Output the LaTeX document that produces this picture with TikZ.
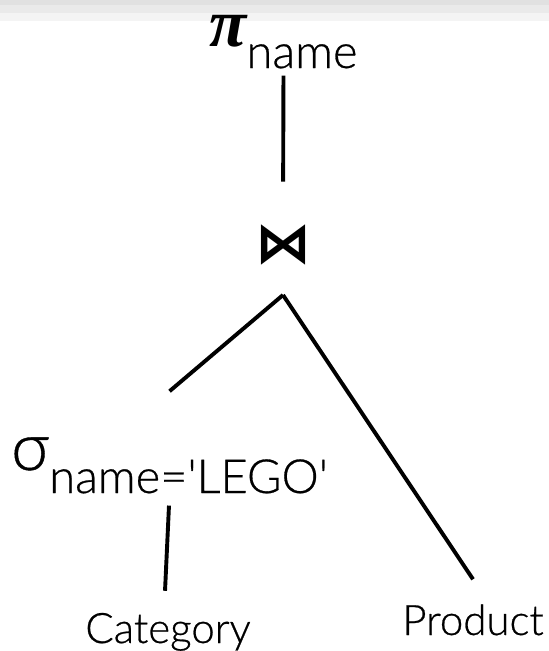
\documentclass[tikz,border=0pt]{standalone}
\usepackage{fontspec}
\setmainfont{Lato}[UprightFont=* Light, BoldFont=* Light,
	BoldFeatures={FakeBold=0.6}, Ligatures=TeXOff]
\newfontfamily\symfont{DejaVu Sans}
\newfontfamily\pifont{Liberation Serif}
\usetikzlibrary{positioning}
\definecolor{bandA}{HTML}{E1E1E1}
\definecolor{bandB}{HTML}{EAEAEA}
\definecolor{bandC}{HTML}{F4F4F4}
\newcommand \opsize {\fontsize{42}{48}\selectfont\bfseries}
\newcommand \subsize {\fontsize{47}{52}\selectfont}

\begin{document}
\begin{tikzpicture}[x=1pt, y=-1pt,
	op/.style={inner sep=0pt, font=\opsize},
	edge/.style={line width=3.9pt}]
	\useasboundingbox (0,0) rectangle (549,651);
	% faixas cinzentas no topo
	\fill [bandA] (0,0) rectangle (549,5);
	\fill [bandB] (0,5) rectangle (549,13);
	\fill [bandC] (0,13) rectangle (549,21);
		% Operadores
		\node [op, anchor=base] (pi) at (283.5,46)
			{{\fontsize{68}{70}\pifont\itshape\bfseries π}\raisebox{-22pt}{\subsize name}};
		\node [op] (join) at (283,245) {\fontsize{56}{60}\symfont\bfseries ⋈};
		\coordinate (apex) at ([yshift=-50pt]join.center);
		\node [op, anchor=base west] (sigma) at (11,470)
			{{\fontsize{66}{70}\selectfont σ}\raisebox{-23pt}{\subsize name='LEGO'}};
		% Relações
		\node [op, anchor=base] (cat) at (168,643) {Category};
		\node [op, anchor=base] (prod) at (473,635) {Product};
		% Arestas
		\draw [edge, shorten <=7pt, shorten >=43pt] (pi.south) -- (join.north);
		\draw [edge] (apex) -- ([yshift=46pt]sigma.north);
		\draw [edge] (apex) -- ([yshift=25pt]prod.north);
		\draw [edge, shorten <=12pt, shorten >=22pt] (sigma.south) -- ([xshift=-4pt]cat.north);
\end{tikzpicture}
\end{document}
